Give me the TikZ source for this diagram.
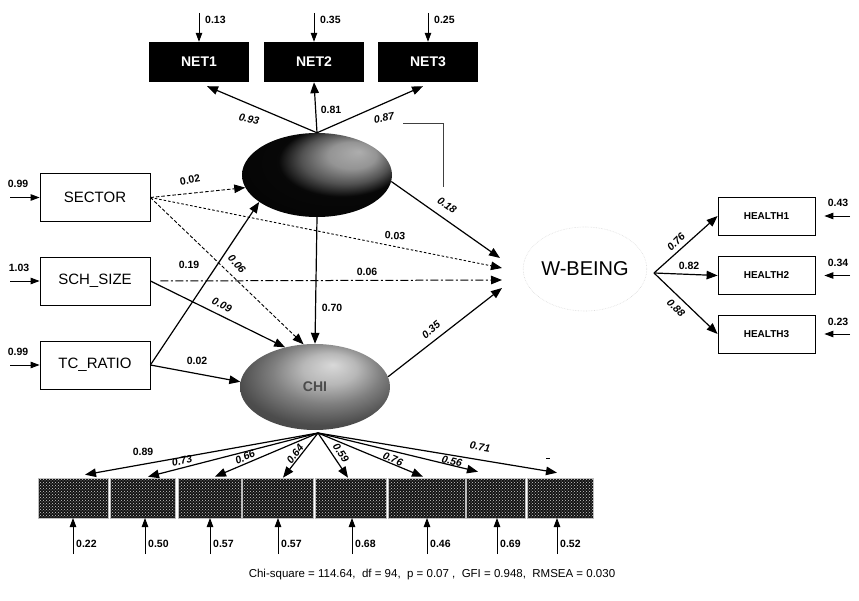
\documentclass[tikz,border=0pt]{standalone}
\usepackage{fontspec}
\setmainfont{Liberation Sans}
\usetikzlibrary{arrows.meta,shapes.geometric,patterns}
\pgfdeclareradialshading{netshade}{\pgfpoint{14bp}{14bp}}{%
  color(0bp)=(black!32); color(8bp)=(black!42); color(15bp)=(black!68); color(21bp)=(black!97); color(50bp)=(black)}
\pgfdeclareradialshading{chishade}{\pgfpoint{6bp}{13bp}}{%
  color(0bp)=(black!15); color(9bp)=(black!28); color(18bp)=(black!50); color(28bp)=(black!70); color(50bp)=(black!80)}

\begin{document}
\begin{tikzpicture}[x=1pt,y=-1pt,
  tipA/.style={-{Triangle[length=11pt,width=8.5pt]}},
  conn/.style={line width=1.2pt, tipA},
  errarr/.style={line width=0.9pt, -{Triangle[length=9pt,width=6.5pt]}},
  obsbox/.style={draw, line width=0.8pt, minimum width=110pt, minimum height=48pt, inner sep=0pt, font=\fontsize{15}{15}\selectfont},
  netbox/.style={fill=black, text=white, minimum width=100pt, minimum height=40pt, inner sep=0pt, font=\bfseries\fontsize{14}{14}\selectfont},
  hbox/.style={draw, line width=0.8pt, minimum width=97pt, minimum height=38pt, inner sep=0pt, font=\bfseries\fontsize{10}{10}\selectfont},
  itembox/.style={draw=gray!50, line width=0.6pt, minimum height=40pt, inner sep=0pt, preaction={fill=black!93}, pattern=crosshatch dots, pattern color=gray!38},
  num/.style={font=\bfseries\fontsize{10.5}{10.5}\selectfont, inner sep=0pt},
  lnum/.style={font=\bfseries\itshape\fontsize{10.5}{10.5}\selectfont, inner sep=0pt}
]
\useasboundingbox (0,0) rectangle (859,601);

% ---------- NET indicators ----------
\node[netbox] (NET1) at (199,62) {NET1};
\node[netbox] (NET2) at (314,62) {NET2};
\node[netbox] (NET3) at (428,62) {NET3};
\coordinate (eN1) at (199,13);
\coordinate (eN2) at (314,13);
\coordinate (eN3) at (428,13);
\draw[errarr] (eN1) -- (NET1.north);
\draw[errarr] (eN2) -- (NET2.north);
\draw[errarr] (eN3) -- (NET3.north);
\node[num, anchor=west] (lN1) at (205,20) {0.13};
\node[num, anchor=west] (lN2) at (320,20) {0.35};
\node[num, anchor=west] (lN3) at (434,20) {0.25};

% ---------- latent NET ----------
\node[ellipse, minimum width=150pt, minimum height=84pt, inner sep=0pt, shade, shading=netshade] (NET) at (317,175) {};

% ---------- latent CHI ----------
\node[ellipse, minimum width=150pt, minimum height=86pt, inner sep=0pt, shade, shading=chishade,
  font=\bfseries\fontsize{14}{14}\selectfont, text=black!70] (CHI) at (315,387) {CHI};

% ---------- W-BEING ----------
\node[ellipse, draw=gray!28, densely dotted, line width=0.6pt, minimum width=110pt, minimum height=84pt,
  inner sep=0pt, font=\fontsize{20}{20}\selectfont] (WB) at (585,269) {W-BEING};

% ---------- left observed ----------
\node[obsbox] (SECTOR) at (95,197.5) {SECTOR};
\node[obsbox] (SCH) at (95,281) {SCH\_SIZE};
\node[obsbox] (TCR) at (95,365) {TC\_RATIO};
\coordinate (eS1) at (10,197.5);
\coordinate (eS2) at (10,281);
\coordinate (eS3) at (10,365);
\draw[errarr] (eS1) -- (SECTOR.west);
\draw[errarr] (eS2) -- (SCH.west);
\draw[errarr] (eS3) -- (TCR.west);
\node[num] (lS1) at (18,184) {0.99};
\node[num] (lS2) at (19,268) {1.03};
\node[num] (lS3) at (18,352) {0.99};

% ---------- HEALTH ----------
\node[hbox] (H1) at (766.5,216) {HEALTH1};
\node[hbox] (H2) at (766.5,275.5) {HEALTH2};
\node[hbox] (H3) at (766.5,334) {HEALTH3};
\coordinate (eH1) at (850,216);
\coordinate (eH2) at (850,275.5);
\coordinate (eH3) at (850,334);
\draw[errarr, shorten >=9pt] (eH1) -- (H1.east);
\draw[errarr, shorten >=9pt] (eH2) -- (H2.east);
\draw[errarr, shorten >=9pt] (eH3) -- (H3.east);
\node[num] (lH1) at (838,203) {0.43};
\node[num] (lH2) at (838,263) {0.34};
\node[num] (lH3) at (838,322) {0.23};

% ---------- bottom CHI items ----------
\node[itembox, minimum width=70pt] (b1) at (73,498) {};
\node[itembox, minimum width=65pt] (b2) at (142.5,498) {};
\node[itembox, minimum width=63pt] (b3) at (209.5,498) {};
\node[itembox, minimum width=71pt] (b4) at (277.5,498) {};
\node[itembox, minimum width=71pt] (b5) at (350.5,498) {};
\node[itembox, minimum width=77pt] (b6) at (426.5,498) {};
\node[itembox, minimum width=59pt] (b7) at (495.5,498) {};
\node[itembox, minimum width=66pt] (b8) at (560,498) {};
\foreach \i/\x/\v in {1/73/0.22,2/145/0.50,3/210/0.57,4/278/0.57,5/352/0.68,6/427/0.46,7/497/0.69,8/557/0.52}{
  \coordinate (eb\i) at (\x,554);
  \draw[errarr] (eb\i) -- (\x,518);
  \node[num, anchor=west] (lb\i) at (\x+3,544) {\v};
}

% ---------- measurement loadings NET ----------
\draw[conn] (NET.north) -- ([xshift=8pt,yshift=-4pt]NET1.south);
\draw[conn] (NET.north) -- (NET2.south);
\draw[conn] (NET.north) -- ([xshift=-5pt,yshift=-4pt]NET3.south);
\node[lnum, rotate=-12] (l93) at (249,119) {0.93};
\node[num] (l81) at (331,110) {0.81};
\node[lnum, rotate=10] (l87) at (384,118) {0.87};
\draw[line width=0.7pt, black!75] (403,123) -- (443,123) -- (443,187);

% ---------- structural paths ----------
\coordinate (wb1) at (500,258);
\coordinate (wb2) at (502,268);
\coordinate (wb3) at (502,280);
\coordinate (wb4) at (502,288);
\draw[conn, line width=0.9pt, dash pattern=on 3.5pt off 2pt] (SECTOR.east) -- (NET.190);
\draw[conn, line width=0.9pt, dash pattern=on 2.5pt off 2pt] (SECTOR.east) -- (wb2);
\draw[conn, line width=0.9pt, dash pattern=on 3.5pt off 2pt] (SECTOR.east) -- (CHI.105);
\draw[conn, line width=1.0pt, dash pattern=on 8pt off 2.5pt on 2pt off 2.5pt] ([xshift=10pt]SCH.east) -- (wb3);
\draw[conn] (SCH.east) -- (CHI.127);
\draw[conn] (TCR.east) -- (NET.205);
\draw[conn] (TCR.east) -- (CHI.176);
\draw[conn] (NET.south) -- (CHI.north);
\draw[conn] (NET.-5) -- (wb1);
\draw[conn] (CHI.8) -- (wb4);

\node[num, rotate=10] (l02a) at (190,180) {0.02};
\node[lnum, rotate=-48] (l06a) at (237,264) {0.06};
\node[num] (l19) at (189,265) {0.19};
\node[lnum, rotate=-25] (l09) at (222,305) {0.09};
\node[num] (l02b) at (197,361) {0.02};
\node[num, rotate=-4] (l03) at (395,236) {0.03};
\node[num] (l06b) at (367,272) {0.06};
\node[num] (l70) at (332,308) {0.70};
\node[lnum, rotate=-35] (l18) at (447,205) {0.18};
\node[lnum, rotate=40] (l35) at (431,330) {0.35};

% ---------- W-BEING loadings ----------
\coordinate (wbout) at (654,273);
\draw[conn] (wbout) -- (H1.west);
\draw[conn] (wbout) -- (H2.west);
\draw[conn] (wbout) -- (H3.west);
\node[lnum, rotate=45] (l76h) at (676,242) {0.76};
\node[num] (l82) at (689,266) {0.82};
\node[lnum, rotate=-45] (l88) at (676,308) {0.88};

% ---------- CHI loadings ----------
\coordinate (chibot) at (318,433);
\draw[conn] (chibot) -- ([xshift=12pt,yshift=3pt]b1.north);
\draw[conn] (chibot) -- ([xshift=5.5pt,yshift=1pt]b2.north);
\draw[conn] (chibot) -- ([xshift=5.5pt,yshift=1pt]b3.north);
\draw[conn] (chibot) -- ([xshift=5.5pt]b4.north);
\draw[conn] (chibot) -- ([xshift=-2.5pt]b5.north);
\draw[conn] (chibot) -- ([xshift=-3.5pt,yshift=1pt]b6.north);
\draw[conn] (chibot) -- ([xshift=-17.5pt,yshift=6pt]b7.north);
\draw[conn] (chibot) -- ([xshift=-3pt,yshift=5pt]b8.north);
\node[num] (l89) at (143,452) {0.89};
\node[lnum, rotate=14] (l73) at (182,461) {0.73};
\node[lnum, rotate=23] (l66) at (245,457) {0.66};
\node[lnum, rotate=52] (l64) at (295,454) {0.64};
\node[lnum, rotate=-56] (l59) at (341,453) {0.59};
\node[lnum, rotate=-23] (l76) at (393,459) {0.76};
\node[lnum, rotate=-14] (l56) at (452,461) {0.56};
\node[lnum, rotate=-9] (l71) at (480,447) {0.71};
\draw[line width=1pt] (546,458) -- (550,458);

% ---------- fit ----------
\node[font=\fontsize{11.5}{11.5}\selectfont, inner sep=0pt] (fit) at (432,575)
  {Chi-square = 114.64,\ \ df = 94,\ \ p = 0.07 ,\ \ GFI = 0.948,\ \ RMSEA = 0.030};
\end{tikzpicture}
\end{document}
